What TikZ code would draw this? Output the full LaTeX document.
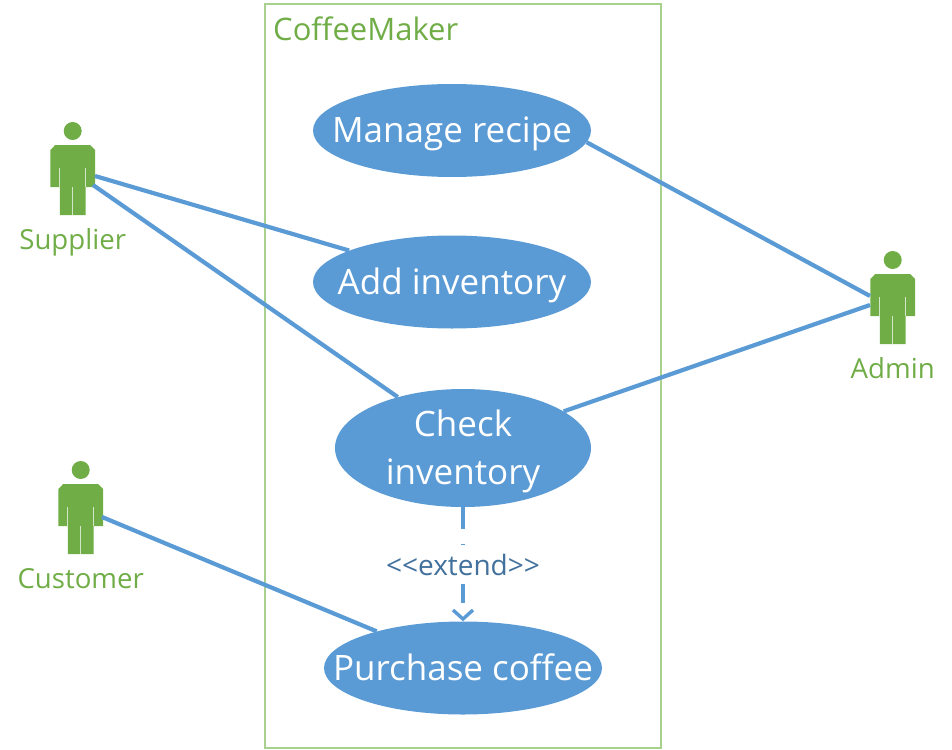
\documentclass[tikz,border=0pt]{standalone}
\usepackage{fontspec}
\setmainfont{Open Sans}
\usetikzlibrary{shapes.geometric,arrows.meta}
\definecolor{ublue}{HTML}{5B9BD5}
\definecolor{ugreen}{HTML}{70AD47}
\definecolor{uframe}{HTML}{A9D18E}
\definecolor{ulabel}{HTML}{41719C}
\newcommand{\ucline}[1]{\makebox[0pt]{\raisebox{-12pt}[0pt][0pt]{#1}}}
\tikzset{
  usecase/.style={ellipse,fill=ublue,inner sep=0pt,text=white,font=\fontsize{35}{48}\selectfont,anchor=center},
  assoc/.style={draw=ublue,line width=4.2pt},
  actorlabel/.style={text=ugreen,font=\fontsize{27.6}{32}\selectfont,inner sep=0pt,anchor=base},
  actorbody/.style={fill=ugreen,draw=none},
  actorslit/.style={draw=white!70!ugreen,line width=1.1pt},
  actorbox/.style={inner sep=0pt,minimum width=45pt,minimum height=84pt},
}
\newcommand{\umlactor}[5]{% name, head x, head y, label, label baseline y
  \begin{scope}[shift={(#2,#3)}]
    \fill[actorbody] (0,0) circle (9);
    \fill[actorbody] (-22.3,19) -- (-17.5,14) -- (17.5,14) -- (22.3,19) -- (22.3,56) -- (12.9,56) -- (12.9,84) -- (-12.9,84) -- (-12.9,56) -- (-22.3,56) -- cycle;
    \draw[actorslit] (-12.9,37) -- (-12.9,56);
    \draw[actorslit] (12.9,37) -- (12.9,56);
    \draw[actorslit] (0,56) -- (0,84);
    \node[actorbox] (#1) at (0,33) {};
  \end{scope}
  \node[actorlabel] (#1label) at (#2,#5) {#4};
}
\begin{document}
\begin{tikzpicture}[x=1pt,y=-1pt]
  \useasboundingbox (0,0) rectangle (952,749);
  \node[draw=uframe,line width=1.2pt,minimum width=396pt,minimum height=744pt,inner sep=0pt] (system) at (463,376) {};
  \node[text=ugreen,font=\fontsize{31}{36}\selectfont,inner sep=0pt,anchor=base west] (title) at (273,40.5) {CoffeeMaker};

  \node[usecase,minimum width=278pt,minimum height=93pt] (manage) at (452,130.5) {\ucline{Manage recipe}};
  \node[usecase,minimum width=278pt,minimum height=93pt] (add) at (452,282) {\ucline{Add inventory}};
  \node[usecase,minimum width=256pt,minimum height=118pt] (check) at (463,448) {\makebox[0pt]{\raisebox{-36pt}[0pt][0pt]{\makebox[0pt]{inventory}}\raisebox{12pt}[0pt][0pt]{\makebox[0pt]{Check}}}};
  \node[usecase,minimum width=278pt,minimum height=93pt] (purchase) at (463,668) {\ucline{Purchase coffee}};

  \umlactor{supplier}{72.7}{131}{Supplier}{249}
  \umlactor{admin}{892.7}{260}{Admin}{378}
  \umlactor{customer}{80.7}{470}{Customer}{588}

  \coordinate (supA) at (95,176);
  \coordinate (supB) at (93,185);
  \coordinate (admA) at (870,296);
  \coordinate (admB) at (870,305);
  \coordinate (cusA) at (102,517);

  \draw[assoc] (supA) -- (add.163);
  \draw[assoc] (supB) -- (check.142.6);
  \draw[assoc] (admA) -- (manage.-5);
  \draw[assoc] (admB) -- (check.20.4);
  \draw[assoc] (cusA) -- (purchase.157);

  \draw[assoc,dash pattern=on 22pt off 15pt,-{Straight Barb[length=9pt,width=20pt,line width=3.4pt]}] (check.south) -- (purchase.north);
  \node[fill=white,text=ulabel,font=\fontsize{28}{32}\selectfont,inner xsep=0pt,inner ysep=0pt,minimum height=39pt,minimum width=160pt] (extend) at (463,564.5) {<{}<extend>{}>};
\end{tikzpicture}
\end{document}
